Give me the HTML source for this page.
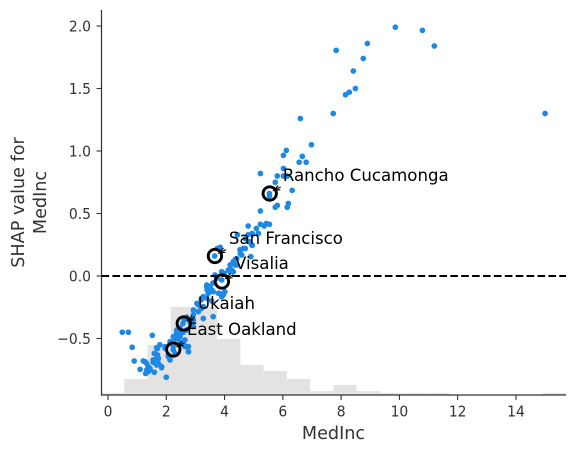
<!DOCTYPE html>
<html>
<head>
<meta charset="utf-8">
<title>SHAP dependence plot for MedInc</title>
<style>
html,body{margin:0;padding:0;background:#fff;width:575px;height:453px;overflow:hidden}
svg{display:block}
text{font-family:"DejaVu Sans","Liberation Sans",sans-serif}
</style>
</head>
<body>
<svg id="chart" width="575" height="453" viewBox="0 0 575 453" xmlns="http://www.w3.org/2000/svg"></svg>
<script>
const xTicks = [0, 2, 4, 6, 8, 10, 12, 14];
const xTickLabels = ['0', '2', '4', '6', '8', '10', '12', '14'];
const yTicks = [2, 1.5, 1, 0.5, 0, -0.5];
const yTickLabels = ['2.0', '1.5', '1.0', '0.5', '0.0', '\u22120.5'];
const histEdges = [-0.24,0.557,1.354,2.151,2.948,3.745,4.542,5.339,6.136,6.933,7.73,8.527,9.324,10.121,10.918,11.715,12.512,13.309,14.106,14.903,15.7];
const histCounts = [1,8,25,44,44,28,15,12,8,2,5,2,1,1,1,0,0,0,0,1];
const medIncValues = [9.86,10.79,11.2,8.9,7.83,8.76,8.42,8.49,8.28,8.15,7.73,15.0,6.6,6.98,6.12,6.02,6.67,6.56,6.8,6.02,6.02,6.15,6.32,
5.23,5.81,5.74,5.54,5.54,6.19,6.15,5.81,5.74,5.23,5.54,5.43,5.36,5.23,5.09,4.81,4.95,5.16,4.44,4.95,4.85,4.71,4.71,4.54,4.54,3.85,4.9,4.37,
4.81,4.64,4.93,4.53,4.59,4.42,4.3,4.19,4.36,4.24,4.13,3.9,3.67,3.73,3.9,3.99,3.6,
3.39,3.5,3.84,3.96,3.61,3.27,3.56,3.27,3.1,2.93,3.27,3.61,2.81,2.57,2.47,2.93,2.36,2.24,3.05,3.2,3.4,2.7,2.62,
0.49,0.70,1.52,0.83,0.90,1.10,1.21,1.33,1.38,1.44,1.29,1.38,1.59,2.0,1.84,1.73,1.67,1.55,1.7,1.59,1.7,1.78,1.67,2.07,2.13,1.96,2.13,2.24,2.36,2.47,2.58,2.47,2.76,2.7,2.64,2.36,2.24,2.3,2.5,3.66,3.75,
1.61,1.73,1.55,1.67,1.84,1.44,1.27,1.33,2.07,1.96,2.13,2.3,2.47,2.58,2.64,2.76,2.76,2.36,2.58,2.7,2.93,3.21,2.93,3.1,3.39,3.56,3.79,4.01,3.9,3.39,3.21,3.44,4.19,4.42,4.3];
const shapValues = [1.99,1.965,1.84,1.86,1.805,1.74,1.64,1.50,1.47,1.45,1.30,1.30,1.26,1.05,1.005,0.965,0.957,0.91,0.91,0.86,0.80,0.80,0.685,
0.82,0.80,0.75,0.66,0.64,0.58,0.55,0.565,0.55,0.52,0.414,0.42,0.40,0.414,0.38,0.40,0.34,0.34,0.33,0.245,0.275,0.30,0.22,0.21,0.18,0.23,0.155,0.134,
0.33,0.22,0.248,0.21,0.168,0.14,0.115,0.088,0.088,0.048,0.048,0.034,0.008,-0.018,-0.032,0.02,-0.056,
-0.072,-0.086,-0.14,-0.152,-0.126,-0.165,-0.2,-0.245,-0.285,-0.31,-0.34,-0.325,-0.365,-0.38,-0.416,-0.405,-0.458,-0.486,-0.22,-0.19,-0.11,-0.33,-0.35,
-0.45,-0.45,-0.475,-0.57,-0.68,-0.747,-0.68,-0.70,-0.725,-0.75,-0.78,-0.765,-0.77,-0.81,-0.733,-0.70,-0.66,-0.672,-0.632,-0.62,-0.58,-0.55,-0.574,-0.632,-0.672,-0.565,-0.54,-0.59,-0.5,-0.486,-0.54,-0.53,-0.606,-0.565,-0.512,-0.44,-0.56,-0.62,-0.45,0.16,0.22,
-0.618,-0.66,-0.69,-0.712,-0.725,-0.74,-0.685,-0.752,-0.645,-0.578,-0.525,-0.5,-0.472,-0.538,-0.565,-0.606,-0.565,-0.432,-0.45,-0.432,-0.352,-0.258,-0.272,-0.232,-0.086,-0.112,-0.138,-0.126,-0.166,-0.178,-0.18,-0.138,0.034,0.088,0.034];
const highlightLabels = ['Rancho Cucamonga', 'San Francisco', 'Visalia', 'Ukaiah', 'East Oakland'];
const highlightX = [5.55, 3.67, 3.91, 2.6, 2.24];
const highlightY = [0.66, 0.16, -0.044, -0.38, -0.588];
const annotationX = [6.0, 4.15, 4.36, 3.09, 2.71];
const annotationY = [0.76, 0.256, 0.056, -0.264, -0.472];
const xAxisLabel = 'MedInc';
const yAxisLines = ['SHAP value for', 'MedInc'];

const NS = 'http://www.w3.org/2000/svg';
const svg = document.getElementById('chart');
const plotLeft = 101.5, plotRight = 566, plotTop = 10, plotBottom = 395;
const xScale = v => 108 + v * 29.14;
const yScale = v => 276 - v * 125;
const histScale = c => plotBottom - c * 2;
function mk(tag, attrs, parent) {
  const e = document.createElementNS(NS, tag);
  for (const k in attrs) e.setAttribute(k, attrs[k]);
  (parent || svg).appendChild(e);
  return e;
}

histCounts.forEach((c, i) => {
  if (!c) return;
  const x0 = Math.max(xScale(histEdges[i]), plotLeft);
  const x1 = Math.min(xScale(histEdges[i + 1]), plotRight);
  const r = mk('rect', {x: x0, y: histScale(c), width: x1 - x0, height: plotBottom - histScale(c), fill: '#e3e3e3'});
  
  
});

medIncValues.forEach((v, i) => {
  const c = mk('circle', {cx: xScale(v), cy: yScale(shapValues[i]), r: 2.85, fill: '#1E88E5'});
  
  
});

const zeroLine = mk('line', {x1: plotLeft, x2: plotRight, y1: yScale(0), y2: yScale(0), stroke: '#000', 'stroke-width': 2.05, 'stroke-dasharray': '7.6 3.3'});



highlightLabels.forEach((label, i) => {
  const cx = xScale(highlightX[i]), cy = yScale(highlightY[i]);
  const ring = mk('circle', {cx: cx, cy: cy, r: 6.7, fill: 'none', stroke: '#000', 'stroke-width': 2.9});
  
  
  const ax = cx + 4, ay = cy - 3;
  const arrow = mk('path', {
    d: 'M' + (cx + 11) + ' ' + (cy - 6.5) + 'L' + ax + ' ' + ay +
       'M' + (ax + 4.5) + ' ' + (ay - 5) + 'L' + ax + ' ' + ay + 'L' + (ax + 6.5) + ' ' + (ay - 0.8),
    fill: 'none', stroke: '#000', 'stroke-width': 1.2
  });
  
  
  const t = mk('text', {x: xScale(annotationX[i]), y: yScale(annotationY[i]), 'font-size': 16.6, fill: '#000'});
  t.textContent = label;
  
  
});

const leftSpine = mk('line', {x1: plotLeft, x2: plotLeft, y1: plotTop, y2: plotBottom + 0.6, stroke: '#333', 'stroke-width': 1.2});


const bottomSpine = mk('line', {x1: plotLeft, x2: plotRight, y1: plotBottom, y2: plotBottom, stroke: '#333', 'stroke-width': 1.2});



xTicks.forEach((v, i) => {
  const m = mk('line', {x1: xScale(v), x2: xScale(v), y1: plotBottom, y2: plotBottom + 5, stroke: '#333', 'stroke-width': 1.1});
  
  
  const t = mk('text', {'text-anchor': 'middle', 'font-size': 15.2, fill: '#333', transform: 'translate(' + xScale(v) + ' 416.5) scale(0.915 1)'});
  t.textContent = xTickLabels[i];
  
  
});
yTicks.forEach((v, i) => {
  const m = mk('line', {x1: plotLeft - 5, x2: plotLeft, y1: yScale(v), y2: yScale(v), stroke: '#333', 'stroke-width': 1.1});
  
  
  const t = mk('text', {'text-anchor': 'end', 'font-size': 15.2, fill: '#333', transform: 'translate(91 ' + (yScale(v) + 5.5) + ') scale(0.915 1)'});
  t.textContent = yTickLabels[i];
  
  
});

const xTitle = mk('text', {x: 333.5, y: 439, 'text-anchor': 'middle', 'font-size': 17.6, fill: '#333'});
xTitle.textContent = xAxisLabel;


yAxisLines.forEach((line, i) => {
  const x = 24 + i * 22;
  const t = mk('text', {x: x, y: 202.5, 'text-anchor': 'middle', 'font-size': 17.6, fill: '#333', transform: 'rotate(-90 ' + x + ' 202.5)'});
  t.textContent = line;
  
  
});
</script>
</body>
</html>
